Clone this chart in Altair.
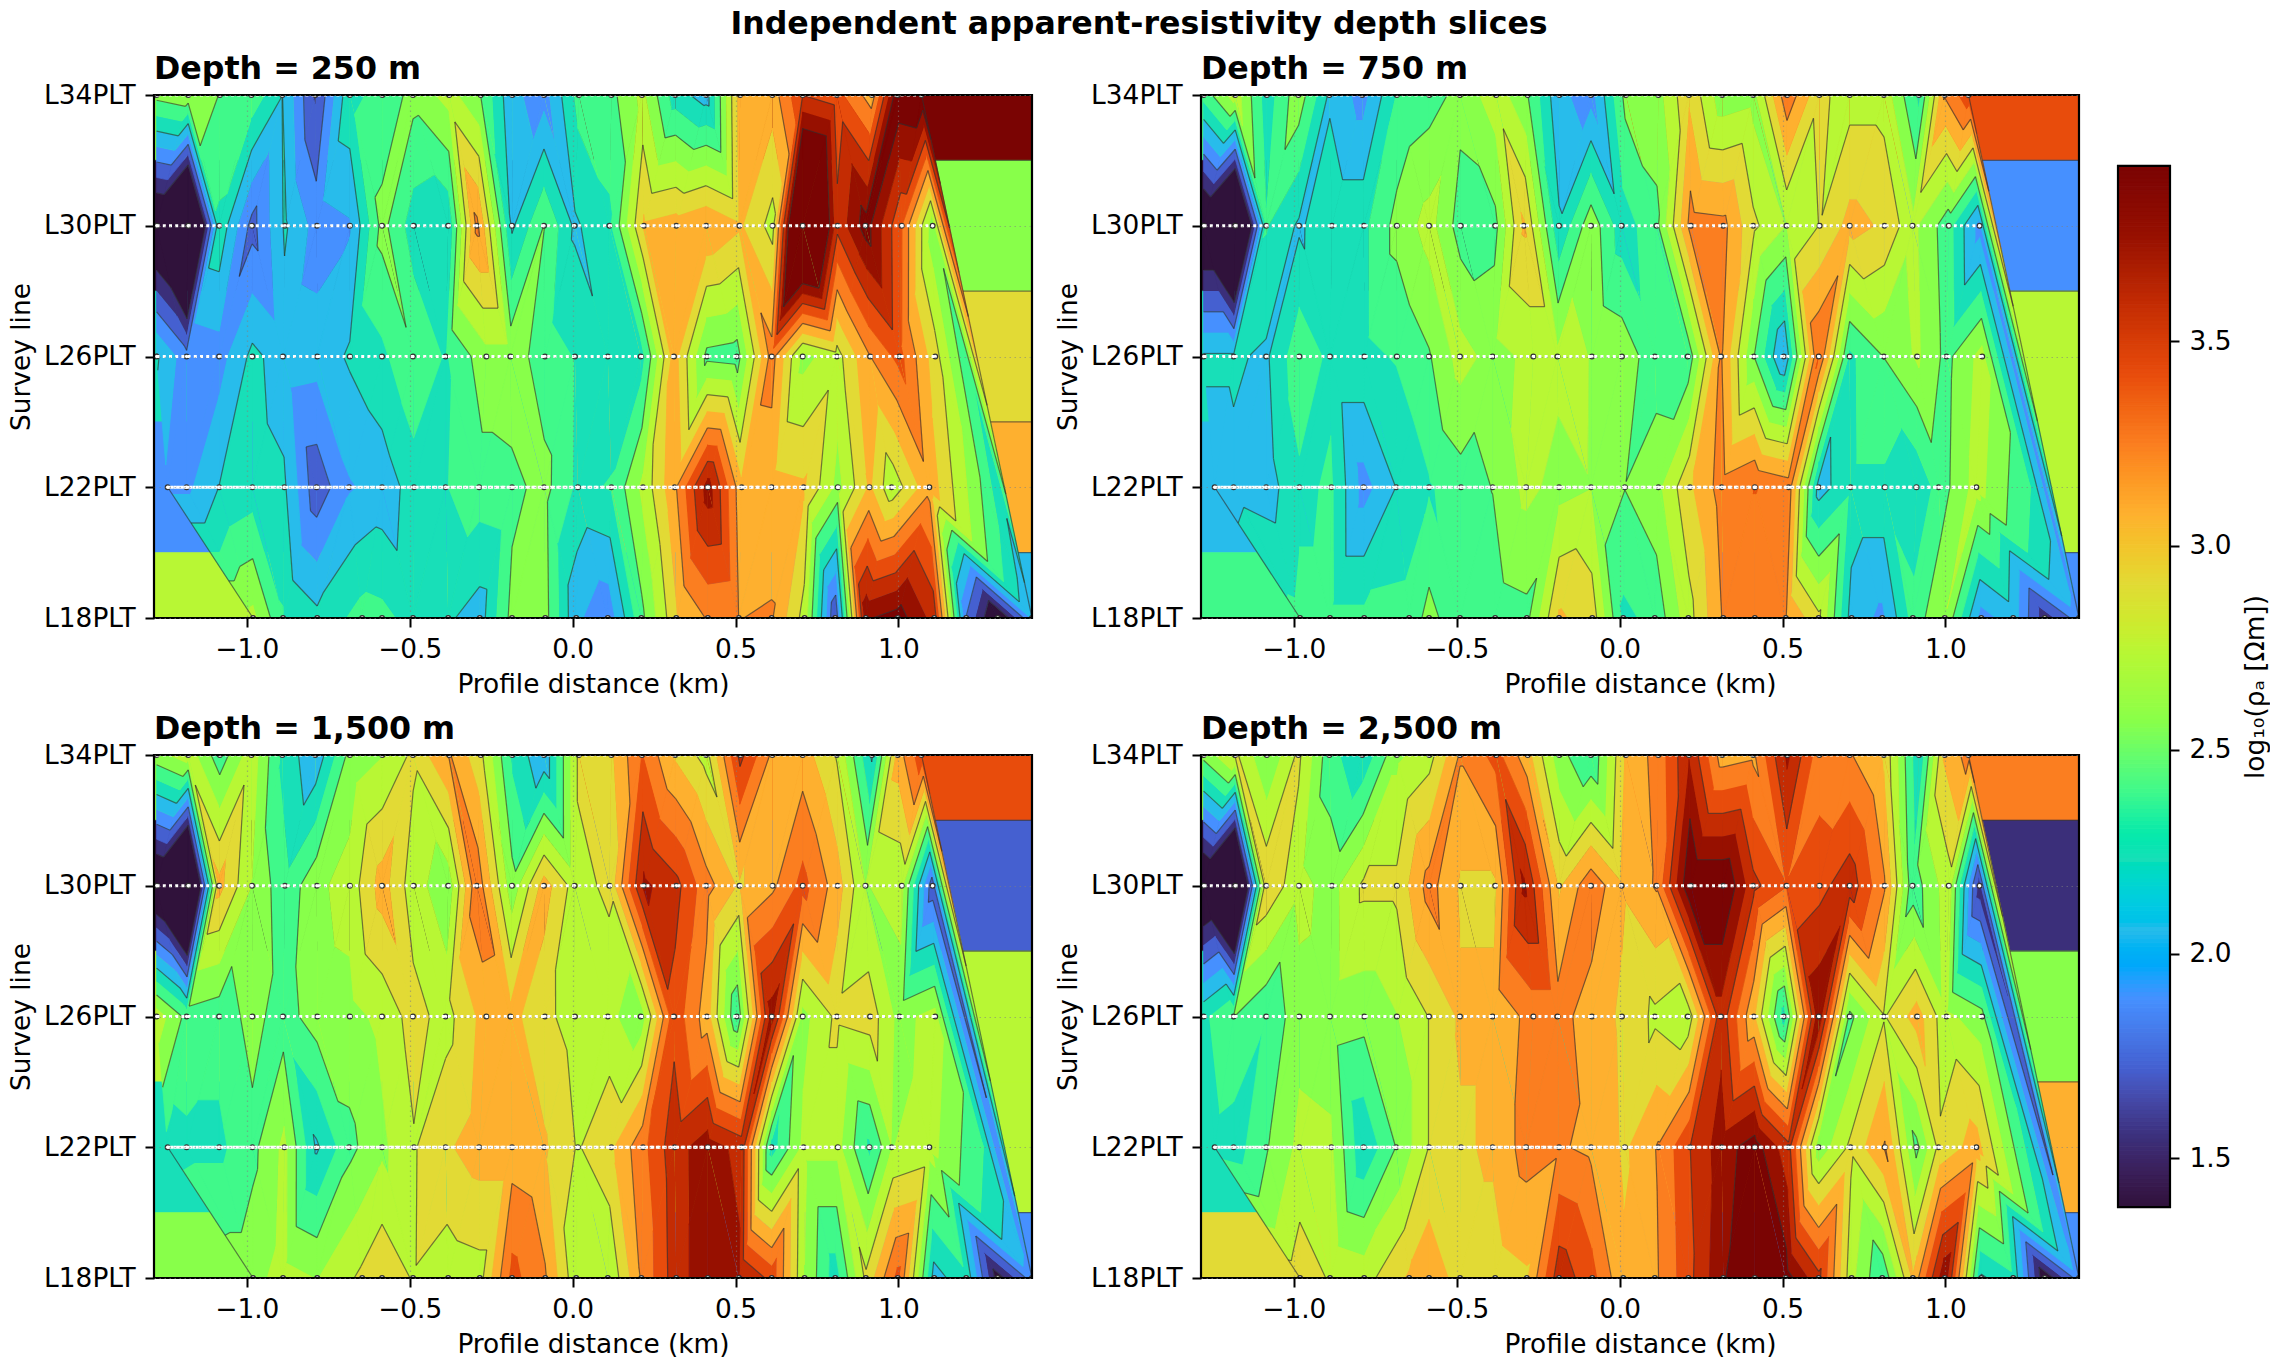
import math
import altair as alt
import numpy as np
import pandas as pd

alt.data_transformers.disable_max_rows()

LINES = [34, 30, 26, 22, 18]
X_L34 = [-1.277,-1.18,-1.083,-0.986,-0.891,-0.79,-0.684,-0.584,-0.49,-0.379,-0.282,-0.185,-0.088,0.019,0.119,0.213,0.315,0.41,0.514,0.613,0.706,0.811,0.919,0.998,1.071]
X_L30 = [-1.277,-1.18,-1.085,-0.984,-0.883,-0.785,-0.684,-0.585,-0.488,-0.382,-0.294,-0.186,-0.088,0.006,0.113,0.219,0.318,0.41,0.512,0.614,0.706,0.813,0.899,1.01,1.105]
X_L26 = [-1.277,-1.185,-1.085,-0.983,-0.889,-0.784,-0.684,-0.585,-0.49,-0.39,-0.265,-0.191,-0.085,0.007,0.108,0.209,0.311,0.412,0.504,0.611,0.706,0.811,0.913,1.003,1.113]
X_L22 = [-1.243,-1.185,-1.085,-0.983,-0.885,-0.786,-0.686,-0.585,-0.487,-0.39,-0.287,-0.186,-0.088,0.016,0.119,0.216,0.313,0.415,0.519,0.611,0.709,0.814,0.911,0.979,1.095]
X_L18 = [-0.981,-0.889,-0.784,-0.646,-0.585,-0.49,-0.382,-0.285,-0.186,-0.084,0.011,0.108,0.211,0.318,0.415,0.51,0.611,0.712,0.806,0.9,0.998,1.11,1.208,1.305,1.41]
STATIONS = [X_L34, X_L30, X_L26, X_L22, X_L18]

D250 = [
 [2.55,2.62,2.49,2.45,2.18,1.68,2.3,2.38,2.55,2.72,2.49,2.05,1.95,2.4,2.45,2.7,2.25,2.1,3.05,3.05,3.45,3.35,3.05,3.9,3.93],
 [1.2,0.6,2.3,1.8,2.2,1.95,2.0,2.55,2.25,2.2,3.18,2.15,2.5,2.15,2.3,3.0,3.05,3.13,3.0,2.75,4.7,3.5,3.85,3.3,2.55],
 [2.2,1.92,1.95,2.22,2.1,2.08,2.2,2.3,2.48,2.32,2.6,2.6,2.4,2.33,2.2,2.25,3.05,2.45,2.42,3.2,2.6,2.75,3.13,3.35,2.88],
 [1.98,1.98,2.18,2.25,2.2,1.75,2.0,2.08,2.25,2.33,2.42,2.45,2.55,2.3,2.35,2.7,3.1,3.7,3.02,3.03,3.0,2.6,3.0,2.7,3.08],
 [2.7,2.35,2.22,2.4,2.38,2.28,2.2,2.1,2.55,2.55,2.05,1.9,2.45,2.95,3.15,3.13,3.15,2.75,1.7,3.75,3.85,3.55,1.85,1.3,2.05],
]
D750 = [
 [2.4,2.75,2.25,2.6,2.15,1.95,2.35,2.42,2.55,2.75,2.5,2.05,1.95,2.55,2.6,2.95,2.55,2.6,3.25,2.85,2.75,2.75,2.3,3.15,3.4],
 [1.2,0.6,2.35,2.15,2.3,2.3,2.55,2.72,2.42,2.45,3.0,2.2,2.6,2.25,2.45,3.2,3.18,2.85,2.65,2.82,3.03,2.95,2.7,2.4,1.95],
 [2.2,2.2,2.15,2.45,2.3,2.3,2.35,2.48,2.72,2.6,2.7,2.7,2.65,2.6,2.4,2.38,3.15,2.5,2.0,3.3,2.3,2.5,2.68,2.45,2.72],
 [2.1,2.14,2.1,2.3,2.36,1.95,2.18,2.32,2.42,2.5,2.7,2.6,2.65,2.5,2.62,2.95,3.2,3.3,3.22,2.1,2.3,2.3,2.2,2.4,2.72],
 [2.38,2.38,2.38,2.4,2.55,2.38,2.42,2.45,3.0,2.9,2.3,2.38,2.75,3.15,3.15,3.15,2.85,2.1,1.98,2.4,2.65,1.95,2.1,1.6,1.95],
]
D1500 = [
 [2.6,2.75,2.4,2.75,2.3,2.05,2.55,2.65,2.85,3.15,2.85,2.3,2.05,2.85,2.95,3.3,2.95,2.75,3.5,3.1,3.05,2.8,2.15,3.05,3.4],
 [1.2,0.5,3.03,2.65,2.38,2.62,2.72,3.05,2.72,2.55,3.25,2.55,3.05,2.75,2.85,3.65,3.5,3.2,2.95,3.1,3.35,3.05,2.65,2.7,1.75],
 [2.75,2.45,2.4,2.55,2.42,2.58,2.6,2.7,2.88,2.75,3.05,3.03,2.85,2.75,2.7,2.55,3.4,3.05,2.35,3.7,2.6,2.85,2.9,2.6,2.72],
 [2.28,2.3,2.3,2.45,2.7,2.15,2.45,2.62,2.8,2.95,3.05,3.05,3.0,2.8,2.95,3.25,3.55,3.7,3.55,2.25,2.7,2.7,2.3,2.65,2.72],
 [2.6,2.72,2.65,2.85,2.95,2.8,2.72,2.75,3.35,3.15,2.7,2.65,3.15,3.55,3.7,3.65,3.4,2.65,2.25,2.85,3.35,2.1,2.3,1.45,1.95],
]
D2500 = [
 [2.55,2.85,2.5,2.85,2.4,2.2,2.62,2.75,3.15,3.35,3.03,2.55,2.35,3.0,3.2,3.6,3.05,3.1,3.65,3.2,3.15,2.95,2.2,3.0,3.2],
 [1.2,0.5,2.95,2.7,2.6,2.85,2.85,3.2,2.95,2.95,3.65,2.95,3.25,3.0,3.15,3.95,3.95,3.5,3.3,3.4,3.55,3.15,2.4,2.75,1.6],
 [2.3,2.5,2.35,2.6,2.58,2.55,2.65,2.82,3.0,3.0,3.2,3.2,3.05,2.95,2.78,2.7,3.55,3.0,2.25,3.75,2.45,2.8,3.05,2.7,2.55],
 [2.28,2.25,2.48,2.7,2.68,2.2,2.5,2.82,2.95,3.0,3.2,3.15,3.1,2.95,3.15,3.45,3.7,3.85,3.5,2.55,2.85,3.15,2.45,2.85,3.05],
 [2.9,2.8,2.75,3.0,3.1,2.9,2.9,2.95,3.55,3.35,3.0,3.1,3.4,3.75,4.0,3.85,3.5,2.7,2.35,3.0,3.75,2.15,2.3,1.4,1.95],
]
TITLES = ["Depth = 250 m", "Depth = 750 m", "Depth = 1,500 m", "Depth = 2,500 m"]
PANELS = [D250, D750, D1500, D2500]
BAND_COLORS = ["#30123b", "#3b2f7a", "#4560d0", "#4690ff", "#28bceb", "#18dfb8", "#40f98a", "#88ff4a",
               "#b8f734", "#e2da35", "#feb02f", "#fb7e20", "#e84c0c", "#c42c03", "#971000", "#7a0403"]

VMIN, VMAX = 1.38, 3.93
NB = 16
STEP = (VMAX - VMIN) / NB
EDGES = [VMIN + STEP * i for i in range(NB + 1)]
XMIN, XMAX = -1.285, 1.41


def band_col(i):
    return round(VMIN + (VMAX - VMIN) * i / (NB - 1), 4)


def band_of(v):
    return max(0, min(NB - 1, int(math.floor((v - VMIN) / STEP))))


def cut(poly, level, keep_above):
    out = []
    n = len(poly)
    for k in range(n):
        a, b = poly[k], poly[(k + 1) % n]
        ia = (a[2] >= level) == keep_above
        ib = (b[2] >= level) == keep_above
        if ia:
            out.append(a)
        if ia != ib:
            t = (level - a[2]) / (b[2] - a[2])
            out.append((a[0] + t * (b[0] - a[0]), a[1] + t * (b[1] - a[1]), level))
    return out


def strip(A, B):
    i = j = 0
    tris = []
    while i < len(A) - 1 or j < len(B) - 1:
        if j == len(B) - 1 or (i < len(A) - 1 and A[i + 1][0] <= B[j + 1][0]):
            tris.append((A[i], A[i + 1], B[j]))
            i += 1
        else:
            tris.append((A[i], B[j], B[j + 1]))
            j += 1
    return tris


def build(rows):
    nodes = [[(x, float(LINES[r]), v) for x, v in zip(STATIONS[r], rows[r])] for r in range(5)]
    tris = []
    for r in range(4):
        tris += strip(nodes[r], nodes[r + 1])
    apex = nodes[4][-1]
    for r in range(3):
        tris.append((nodes[r][-1], nodes[r + 1][-1], apex))

    polys, segs = [], []
    pid = 0

    def add_poly(pts, c):
        nonlocal pid
        for k, p in enumerate(pts):
            polys.append((pid, k, round(p[0], 4), round(p[1], 3), c))
        pid += 1

    bounds = [34, 32, 28, 24, 20, 18]
    for r in range(5):
        y0, y1 = bounds[r], bounds[r + 1]
        add_poly([(XMIN, y0), (0, y0), (0, y1), (XMIN, y1)], band_col(band_of(rows[r][0])))
        add_poly([(0, y0), (XMAX, y0), (XMAX, y1), (0, y1)], band_col(band_of(rows[r][-1])))
        if r < 4:
            hx = nodes[0][-1][0] + (apex[0] - nodes[0][-1][0]) * (34 - y1) / 16.0
            if band_of(rows[r][-1]) // 2 != band_of(rows[r + 1][-1]) // 2 or abs(band_of(rows[r][-1]) - band_of(rows[r + 1][-1])) > 1:
                segs.append((hx, y1, XMAX, y1))
    segs.append((nodes[0][-1][0], 34, apex[0], 18))
    segs.append((nodes[3][0][0], 22, nodes[4][0][0], 18))

    for t in tris:
        vs = [p[2] for p in t]
        b0, b1 = band_of(min(vs)), band_of(max(vs))
        for b in range(b0, b1 + 1):
            poly = list(t)
            if b > 0:
                poly = cut(poly, EDGES[b], True)
            if b < NB - 1 and poly:
                poly = cut(poly, EDGES[b + 1], False)
            if len(poly) >= 3:
                add_poly(poly, band_col(b))
        for e in EDGES[1:-1:2]:
            pts = []
            for k in range(3):
                a, c = t[k], t[(k + 1) % 3]
                if (a[2] >= e) != (c[2] >= e):
                    s = (e - a[2]) / (c[2] - a[2])
                    pts.append((a[0] + s * (c[0] - a[0]), a[1] + s * (c[1] - a[1])))
            if len(pts) == 2:
                segs.append((pts[0][0], pts[0][1], pts[1][0], pts[1][1]))
    return (
        pd.DataFrame(polys, columns=["id", "k", "x", "y", "c"]),
        pd.DataFrame(np.round(np.array(segs, dtype=float), 4), columns=["x", "y", "x2", "y2"]),
    )


FONT = "DejaVu Sans"
FS = 26.4
color_scale = alt.Scale(domain=[band_col(i) for i in range(NB)], range=BAND_COLORS, clamp=True)
xs = alt.Scale(domain=[XMIN, XMAX], nice=False, zero=False)
ys = alt.Scale(domain=[18, 34], nice=False, zero=False)
W, H = 878, 523

st_rows = []
for r, line in enumerate(LINES):
    for x in STATIONS[r]:
        st_rows.append({"x": x, "y": line})
st_df = pd.DataFrame(st_rows)


def panel(rows, title):
    poly_df, seg_df = build(rows)
    common = dict(grid=True, gridColor="#808080", gridDash=[1.5, 3.5], gridOpacity=0.55, gridWidth=1.2,
                  domain=False, tickSize=9, tickWidth=2, tickColor="#000",
                  labelFont=FONT, labelFontSize=FS, labelColor="#000",
                  titleFont=FONT, titleFontSize=FS, titleFontWeight="normal", titleColor="#000", zindex=1)
    x_enc = alt.X(
        "x:Q", scale=xs, title="Profile distance (km)",
        axis=alt.Axis(values=[-1.0, -0.5, 0.0, 0.5, 1.0], format=".1f",
                      labelExpr="replace(format(datum.value,'.1f'),'-','\u2212')",
                      labelPadding=9, titlePadding=9, **common))
    y_enc = alt.Y(
        "y:Q", scale=ys, title="Survey line",
        axis=alt.Axis(values=[18, 22, 26, 30, 34],
                      labelExpr="'L'+datum.value+'PLT'",
                      labelPadding=10, titlePadding=8, **common))
    fills = alt.Chart(poly_df).mark_line(filled=True, clip=True, strokeWidth=0.8, strokeJoin="round").encode(
        x=x_enc, y=y_enc,
        detail="id:N",
        order="k:Q",
        fill=alt.Fill("c:Q", scale=color_scale, legend=None),
        stroke=alt.Stroke("c:Q", scale=color_scale, legend=None),
    )
    lines = alt.Chart(seg_df).mark_rule(clip=True, color="#303030", opacity=0.62, strokeWidth=1.2).encode(
        x=alt.X("x:Q", scale=xs), y=alt.Y("y:Q", scale=ys), x2="x2:Q", y2="y2:Q")
    dots = alt.Chart(st_df).mark_point(clip=True, filled=True, size=22, fill="#fff", stroke="#333", strokeWidth=1.3, opacity=1).encode(
        x=alt.X("x:Q", scale=xs), y=alt.Y("y:Q", scale=ys))
    white = alt.Chart(st_df[st_df.y != 18]).mark_line(clip=True, color="#fff", strokeWidth=2.8, strokeDash=[3, 3.2]).encode(
        x=alt.X("x:Q", scale=xs), y=alt.Y("y:Q", scale=ys), detail="y:N")
    white2 = alt.Chart(st_df[st_df.y == 22]).mark_line(clip=True, color="#fff", strokeWidth=2.8, strokeDash=[3.03, 3.19], strokeDashOffset=3.2).encode(
        x=alt.X("x:Q", scale=xs), y=alt.Y("y:Q", scale=ys))
    frame = alt.Chart(pd.DataFrame({"a": [XMIN], "b": [XMAX], "c": [18], "d": [34]})).mark_rect(
        filled=False, stroke="#000", strokeWidth=2.2).encode(
        x=alt.X("a:Q", scale=xs), x2="b:Q", y=alt.Y("c:Q", scale=ys), y2="d:Q")
    return alt.layer(fills, lines, dots, white, white2, frame).properties(
        width=W, height=H,
        title=alt.TitleParams(title, anchor="start", frame="group", font=FONT, fontSize=31.7, fontWeight="bold", color="#000", offset=-4),
    )


ps = [panel(r, t) for r, t in zip(PANELS, TITLES)]

edges = np.linspace(VMIN, VMAX, 257)
cb_df = pd.DataFrame({"a": edges[:-1], "b": edges[1:], "c": (edges[:-1] + edges[1:]) / 2})
cb_scale = alt.Scale(domain=[1.2065, 4.1035], nice=False, zero=False)
CBW = 52
cb_axis = alt.Axis(values=[1.5, 2.0, 2.5, 3.0, 3.5], format=".1f", orient="right", grid=False, domain=False,
                   tickSize=9, tickWidth=2, tickColor="#000", labelFont=FONT, labelFontSize=FS, labelColor="#000",
                   labelPadding=10, title="log\u2081\u2080(\u03c1\u2090 [\u03a9m])", titleFont=FONT, titleFontSize=FS,
                   titleFontWeight="normal", titleColor="#000", titleAngle=270, titleBaseline="top", titlePadding=12)
cb_bar = alt.Chart(cb_df).mark_rect(strokeWidth=1).encode(
    x=alt.value(0), x2=alt.value(CBW),
    y=alt.Y("a:Q", scale=cb_scale, axis=cb_axis), y2="b:Q",
    color=alt.Color("c:Q", scale=color_scale, legend=None),
    stroke=alt.Stroke("c:Q", scale=color_scale, legend=None))
cb_frame = alt.Chart(pd.DataFrame({"a": [VMIN], "b": [VMAX]})).mark_rect(filled=False, stroke="#000", strokeWidth=2.2).encode(
    x=alt.value(0), x2=alt.value(CBW), y=alt.Y("a:Q", scale=cb_scale), y2="b:Q")
cb = alt.layer(cb_bar, cb_frame).properties(width=CBW, height=1183)

left = alt.vconcat(
    alt.hconcat(ps[0], ps[1], spacing=21),
    alt.hconcat(ps[2], ps[3], spacing=21),
    spacing=16,
)
chart = alt.hconcat(left, cb, spacing=35).resolve_scale(color="shared").properties(
    title=alt.TitleParams("Independent apparent-resistivity depth slices", anchor="middle", font=FONT,
                          fontSize=31.6, fontWeight="bold", color="#000", offset=14),
    padding={"left": 0, "top": 0, "right": 0, "bottom": 0},
).configure_view(stroke=None)

chart.save("out.html", embed_options={"renderer": "svg", "actions": False})
